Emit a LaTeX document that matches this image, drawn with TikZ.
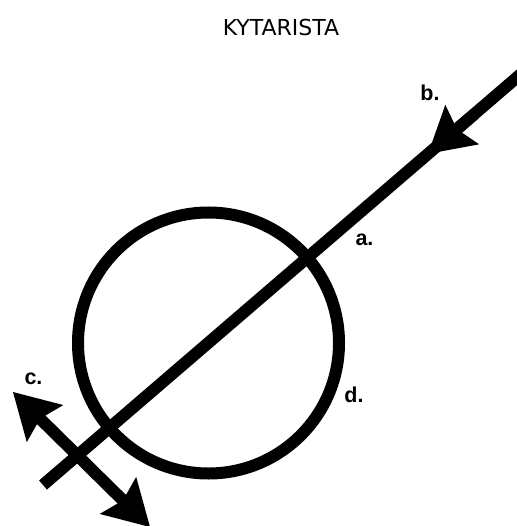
\documentclass[tikz,border=0pt]{standalone}
\usepackage{fontspec}
\setmainfont{DejaVu Sans}
\newfontfamily\lblfont{Liberation Sans}
\usetikzlibrary{arrows.meta}
\begin{document}
\begin{tikzpicture}[x=1pt,y=-1pt]
\tikzset{
  thickline/.style={line width=12pt, line cap=butt},
  mytip/.tip={Stealth[length=45pt, width=52pt, inset=7pt, line width=0pt]},
  lbl/.style={font=\lblfont\bfseries\fontsize{21.5}{21.5}\selectfont, inner sep=0pt},
  ttl/.style={font=\fontsize{22}{22}\selectfont, inner sep=0pt}
}
\useasboundingbox (0,0) rectangle (516,526);
\node[ttl] (title) at (281,27.5) {KYTARISTA};
\node[circle, draw, line width=12pt, minimum size=261pt, inner sep=0pt] (ring) at (208.5,343) {};
\coordinate (lo) at (43,485);
\coordinate (hi) at (543,55);
\draw[thickline] (lo) -- (hi);
\coordinate (bstart) at (474,114.5);
\coordinate (btip) at (428,153.8);
\draw[thickline, -{mytip}] (bstart) -- (btip);
\coordinate (ca) at (13,392);
\coordinate (cb) at (150,527);
\draw[thickline, {mytip}-{mytip}] (ca) -- (cb);
\node[lbl] (la) at (364.5,239.5) {a.};
\node[lbl] (lb) at (430,93) {b.};
\node[lbl] (lc) at (33.5,379) {c.};
\node[lbl] (ld) at (354,394.5) {d.};
\end{tikzpicture}
\end{document}
